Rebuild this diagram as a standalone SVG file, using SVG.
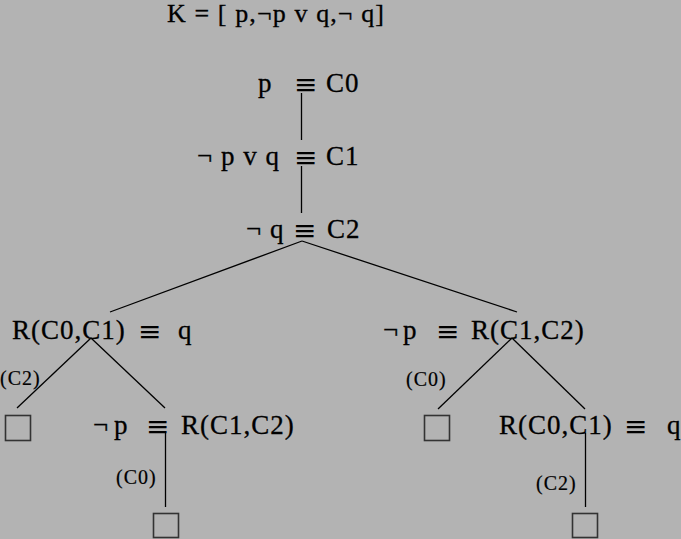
<svg xmlns="http://www.w3.org/2000/svg" width="681" height="539" viewBox="0 0 681 539">
<style>
.t{font-family:"Liberation Serif","Times New Roman",serif;font-size:27px;fill:#000;stroke:#000;stroke-width:0.3;letter-spacing:1px}
.s{font-family:"Liberation Serif","Times New Roman",serif;font-size:20px;fill:#000;stroke:#000;stroke-width:0.2;letter-spacing:1px}
.eq{font-family:"DejaVu Serif","DejaVu Sans",serif;font-size:28px;letter-spacing:0;stroke-width:0}
.ln{stroke:#000;stroke-width:1.3;fill:none}
.box{stroke:#333;stroke-width:1.6;fill:none}
</style>
<rect width="681" height="539" fill="#b3b3b3"/>
<g id="title"><text class="t" x="167" y="22" textLength="218" lengthAdjust="spacing" style="font-size:26px">K = [ p,¬p v q,¬ q]</text></g>
<g id="connectors">
<line class="ln" x1="301.5" y1="93" x2="301.5" y2="140"/>
<line class="ln" x1="301.5" y1="166" x2="301.5" y2="213"/>
<line class="ln" x1="302" y1="241" x2="110" y2="312"/>
<line class="ln" x1="302" y1="241" x2="517" y2="312"/>
<line class="ln" x1="91" y1="338" x2="17" y2="408"/>
<line class="ln" x1="91" y1="338" x2="165" y2="408"/>
<line class="ln" x1="165.5" y1="433" x2="165.5" y2="507"/>
<line class="ln" x1="512" y1="338" x2="438" y2="409"/>
<line class="ln" x1="512" y1="338" x2="585" y2="409"/>
<line class="ln" x1="585.5" y1="433" x2="585.5" y2="507"/>
</g>
<g id="n-c0"><text class="t" x="258" y="92">p<tspan class="eq" x="294" dy="2">≡</tspan><tspan x="326" dy="-2">C0</tspan></text></g>
<g id="n-c1"><text class="t" x="197" y="165">¬ p v q<tspan class="eq" x="294" dy="2">≡</tspan><tspan x="326" dy="-2">C1</tspan></text></g>
<g id="n-c2"><text class="t" x="246" y="238">¬ q<tspan class="eq" x="293" dy="2">≡</tspan><tspan x="327" dy="-2">C2</tspan></text></g>
<g id="n-left"><text class="t" x="12" y="339">R(C0,C1)<tspan class="eq" x="138" dy="2">≡</tspan><tspan x="178" dy="-2">q</tspan></text></g>
<g id="n-right"><text class="t" x="383" y="339">¬<tspan x="403">p</tspan><tspan class="eq" x="436" dy="2">≡</tspan><tspan x="471" dy="-2">R(C1,C2)</tspan></text></g>
<g id="n-left-right"><text class="t" x="93" y="434">¬<tspan x="114">p</tspan><tspan class="eq" x="146" dy="2">≡</tspan><tspan x="181" dy="-2">R(C1,C2)</tspan></text></g>
<g id="n-right-right"><text class="t" x="499" y="434">R(C0,C1)<tspan class="eq" x="624" dy="2">≡</tspan><tspan x="667" dy="-2">q</tspan></text></g>
<g id="lbl-1"><text class="s" x="0" y="385">(C2)</text></g>
<g id="lbl-2"><text class="s" x="116" y="484">(C0)</text></g>
<g id="lbl-3"><text class="s" x="406" y="386">(C0)</text></g>
<g id="lbl-4"><text class="s" x="536" y="490">(C2)</text></g>
<g id="leaf-1"><rect class="box" x="5.5" y="415.5" width="25" height="25"/></g>
<g id="leaf-2"><rect class="box" x="153.5" y="513.5" width="25" height="24"/></g>
<g id="leaf-3"><rect class="box" x="424.5" y="415.5" width="25" height="25"/></g>
<g id="leaf-4"><rect class="box" x="572.5" y="513.5" width="25" height="24"/></g>
</svg>
